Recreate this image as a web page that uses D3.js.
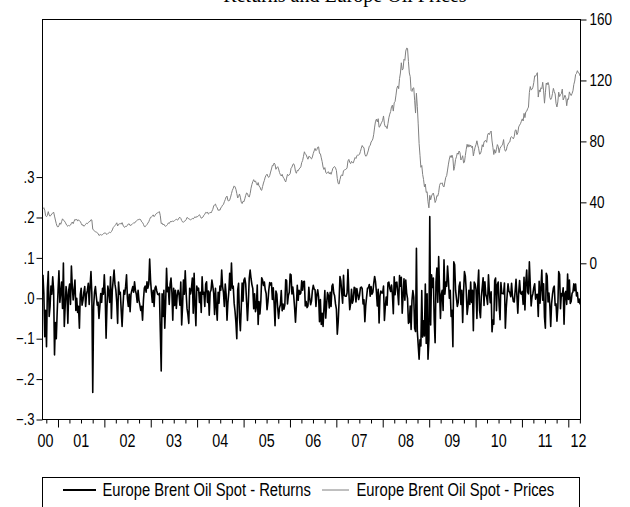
<!DOCTYPE html>
<html>
<head>
<meta charset="utf-8">
<script src="https://cdn.jsdelivr.net/npm/d3@7"></script>
<style>
  html, body { margin: 0; padding: 0; background: #fff; }
  svg { display: block; }
  .sans { font-family: "Liberation Sans", Arial, sans-serif; }
</style>
</head>
<body>
<svg id="chart" width="630" height="507"></svg>
<script>
// Weekly observations (Fridays), first week starting 1 Sep 2000.
const firstWeek = "2000-09-01";

// Brent spot price, USD per barrel, one array per calendar year
const price2000 = [35.8,36.5,34.9,31.2,30.6, 31.5,33.9,31.8,30.9, 31.6,32.4,33.0,33.6, 31.0,28.4,26.0,24.2,23.8];
const price2001 = [24.8,26.5,25.6,27.4, 29.2,28.4,27.8,27.0, 25.8,24.8,24.3,24.9,24.6, 25.1,26.2,27.1,26.0, 27.6,28.9,28.4,28.9,
                   27.7,28.5,28.0,27.5,26.2, 25.0,25.3,24.3,24.8, 25.6,26.3,26.0,26.8,27.3, 27.5,28.6,28.4,22.5,
                   21.8,21.2,20.6,20.5, 20.0,19.6,18.3,18.6,18.9, 18.5,18.8,19.5,19.7];
const price2002 = [20.1,19.3,18.9,19.6, 19.9,20.4,20.1,20.8, 21.9,23.4,24.1,24.8,25.6, 26.6,24.5,25.6,25.9, 26.1,25.7,26.7,25.1,24.0,
                   23.6,24.3,24.2,25.0, 25.8,25.9,24.8,25.1, 25.4,26.0,26.6,26.4,27.2, 27.8,28.3,28.7,28.6,
                   29.1,28.5,27.2,26.8, 25.6,24.1,24.0,24.8,25.4, 26.4,27.3,28.8,30.2];
const price2003 = [30.4,30.9,31.8,30.6,31.4, 32.3,32.9,33.2,33.5, 33.9,31.2,26.1,26.4, 25.2,25.7,24.6,24.3, 24.7,25.4,26.5,26.1,27.2,
                   27.6,27.2,27.9,27.4, 28.0,28.6,28.9,28.4, 28.6,29.8,30.2,29.5,28.1, 27.2,26.9,27.6,27.9,
                   28.6,30.1,29.7,29.2,29.0, 28.4,28.9,29.4,29.1, 29.8,30.6,29.9,30.8];
const price2004 = [30.6,31.4,31.9,30.8,29.6, 29.9,30.4,31.6,32.2, 33.4,33.1,33.7,32.3, 32.8,33.5,33.0,34.2,35.4, 37.6,38.4,38.9,37.2,
                   36.4,34.7,35.2,34.8, 36.3,37.1,38.2,38.6,40.4, 41.8,43.5,44.1,41.2, 40.9,41.6,43.4,45.7,
                   47.9,49.2,50.8,50.2,48.6, 45.8,42.9,43.8,45.5, 43.4,40.1,39.2,40.7,40.4];
const price2005 = [42.3,44.6,46.2,45.8, 43.9,43.5,45.7,49.3, 51.8,53.6,54.9,53.5, 54.1,52.4,51.3,53.0,50.6, 50.2,48.3,47.9,50.4,
                   52.7,54.4,56.6,57.8, 58.5,56.9,56.4,57.6,59.9, 61.9,64.3,64.1,65.8, 64.9,61.7,62.8,63.4,61.9,
                   59.6,58.2,57.3,58.4, 56.6,55.8,54.3,53.4, 55.9,58.4,57.6,58.0,58.9];
const price2006 = [62.4,63.1,64.9,65.3, 63.8,60.2,59.1,61.0, 60.7,61.9,62.5,63.3,66.1, 67.4,70.2,73.2,71.8, 71.2,69.6,68.3,70.2,
                   70.1,69.0,68.5,69.8,72.1, 73.8,75.4,73.9,74.6, 76.2,76.4,72.1,71.9, 69.2,66.7,63.2,61.6,62.8,
                   59.8,58.9,59.7,60.1, 58.7,59.6,58.4,60.2, 62.3,63.1,63.5,62.6,60.9];
const price2007 = [55.6,52.4,52.0,54.9, 57.3,58.1,57.4,60.8, 61.2,61.5,61.8,62.6,67.2, 68.2,66.3,65.4,66.9, 66.1,65.9,67.7,69.4,
                   68.8,70.5,71.2,71.0,71.5, 73.4,75.5,77.3,76.2, 75.9,71.6,70.3,70.6,72.4, 74.3,76.9,77.3,79.6,
                   80.4,81.6,84.7,89.4, 93.2,94.6,92.8,94.9,89.3, 89.8,91.4,92.6,93.8];
const price2008 = [96.7,91.5,89.6,89.9, 88.4,91.8,95.5,97.9,99.6, 102.9,103.8,99.9,105.3, 106.2,110.4,114.9,116.4,
                   114.6,121.2,124.9,131.6,126.8, 127.6,133.9,133.2,139.3, 141.2,141.0,132.5,124.9,
                   122.5,113.4,112.8,114.9,115.2, 107.0,98.6,111.6,102.8, 91.5,78.6,70.9,63.0,64.2,
                   58.3,55.1,50.2,52.0, 46.5,47.0,40.4,36.4];
const price2009 = [44.6,41.7,44.2,45.4,46.1, 43.7,39.9,41.2,44.4, 44.1,46.5,51.1,52.6, 52.4,52.8,50.6,50.1, 53.4,56.4,57.5,61.2,65.1,
                   68.4,70.6,69.4,71.0, 68.9,61.0,63.6,68.1,69.9, 72.4,71.6,73.7,72.5, 67.8,68.9,70.6,65.9,
                   66.3,70.8,74.8,78.1,76.2, 77.9,76.5,77.6,76.0, 76.9,70.5,73.4,76.2];
const price2010 = [77.9,80.4,77.5,75.2,71.6, 71.9,73.9,77.8,76.4, 79.6,80.4,80.6,79.4, 84.1,85.4,84.5,85.9,86.8, 80.3,76.1,71.4,74.6,
                   72.3,74.8,77.9,76.6, 72.6,75.5,76.4,77.3,78.2, 81.2,75.4,73.6,74.1, 76.8,78.2,79.3,79.6,
                   82.6,83.1,82.4,81.7,83.2, 87.2,87.6,84.4,85.6, 89.5,90.7,91.6,93.2,94.8];
const price2011 = [93.4,98.4,95.6,99.4, 99.8,101.4,102.5,112.1, 116.0,113.8,114.2,115.6, 118.7,123.0,122.8,123.9,125.1,
                   109.1,113.8,112.4,115.2, 114.6,118.8,113.2,105.1, 111.9,118.3,117.2,118.7,116.7,
                   108.9,107.5,108.6,111.4, 114.8,112.7,111.1,104.9,102.6, 105.9,112.3,109.4,110.7,
                   111.4,114.3,107.2,108.5, 110.3,108.7,103.4,107.9,107.6];
const price2012 = [112.5,111.0,110.1,111.4, 113.2,117.4,119.6,123.9, 124.6,126.4,125.1,124.8,122.9];

// Weekly log returns of the same series
const return2000 = [0.058,0.012,-0.095,-0.03,-0.12,0.025,0.066,-0.045,-0.02,0.03,0.01,0.053,0.02,-0.14,-0.06,-0.10,-0.035,0.02];
const return2001 = [0.068,-0.01,0.016,0.04,-0.025,0.087,-0.07,-0.02,0.029,0.01,-0.062,0.02,0.035,-0.015,0.08,0.03,-0.004,0.02,0.045,-0.03,
                    0.0,-0.035,-0.02,-0.074,0.01,0.025,-0.017,-0.005,0.015,0.029,-0.02,0.01,0.02,0.037,-0.015,0.03,0.066,0.01,-0.233,-0.02,
                    0.015,0.029,0.005,-0.017,-0.01,-0.05,-0.02,0.012,-0.01,0.025,0.01,0.058];
const return2002 = [0.01,-0.099,-0.02,0.03,0.015,-0.01,0.053,-0.05,0.02,0.045,0.07,0.035,0.02,-0.01,-0.062,0.04,0.01,0.015,-0.03,-0.07,
                    -0.02,0.02,0.01,0.03,0.058,0.0,-0.02,0.01,-0.033,0.01,0.02,0.029,0.015,0.041,0.02,0.01,-0.01,0.02,-0.005,-0.017,
                    -0.03,-0.02,-0.054,-0.005,0.025,0.03,0.015,0.041,0.025,0.035,0.097,0.045];
const return2003 = [0.015,-0.01,0.02,-0.02,0.025,0.03,0.018,0.01,0.009,0.012,-0.083,-0.18,0.011,-0.045,0.02,-0.074,-0.012,0.074,0.016,0.027,
                    -0.015,0.035,0.05,0.015,-0.054,0.025,-0.018,0.02,-0.025,0.007,0.02,0.01,-0.017,0.04,-0.066,-0.02,0.045,0.01,0.068,0.015,
                    -0.025,-0.04,-0.062,0.025,0.011,0.025,0.05,-0.037,0.062,-0.017,-0.068,0.03];
const return2004 = [0.02,0.025,-0.01,0.015,-0.035,0.053,0.01,0.015,-0.02,0.035,0.041,-0.01,0.018,-0.042,0.015,0.02,0.045,0.03,0.012,-0.04,
                    0.025,-0.02,-0.054,0.015,-0.012,0.03,0.02,0.07,0.029,0.014,-0.02,0.035,0.01,-0.054,-0.01,0.015,0.062,0.02,0.087,0.025,
                    0.03,-0.012,-0.032,-0.06,-0.10,0.02,0.037,-0.047,-0.08,-0.023,0.038,-0.007,0.045];
const return2005 = [0.05,0.035,-0.008,-0.055,-0.01,0.05,0.07,0.049,0.034,0.024,-0.026,0.011,-0.033,-0.021,0.033,-0.065,-0.008,-0.039,-0.008,0.051,
                    0.045,0.032,0.04,0.021,0.012,-0.028,-0.009,0.021,0.039,0.033,0.038,-0.003,0.026,-0.014,-0.068,0.018,0.01,-0.024,-0.05,-0.024,
                    -0.016,0.019,-0.031,-0.014,-0.027,-0.017,0.046,0.044,-0.014,0.007,0.015,0.06];
const return2006 = [0.058,0.011,0.028,0.006,-0.023,-0.059,-0.018,0.032,-0.005,0.02,0.01,0.013,0.043,0.02,0.041,0.042,-0.019,-0.008,-0.023,-0.019,
                    0.027,-0.001,-0.016,-0.007,0.019,0.032,0.023,0.021,-0.02,0.009,0.021,0.003,-0.058,-0.003,-0.065,-0.037,-0.07,-0.025,0.019,-0.049,
                    -0.015,0.014,0.007,-0.024,0.015,-0.02,0.03,0.035,0.013,0.006,-0.014,-0.027];
const return2007 = [-0.089,-0.059,-0.008,0.054,0.043,0.014,-0.012,0.057,0.007,0.005,0.005,0.013,0.071,0.015,-0.028,-0.014,0.022,-0.012,-0.003,0.027,
                    0.025,-0.009,0.024,0.01,-0.003,0.007,0.026,0.028,0.024,-0.014,-0.004,-0.058,-0.018,0.004,0.025,0.026,0.034,0.005,0.029,0.01,
                    0.015,0.037,0.054,0.041,0.015,-0.019,0.022,-0.061,0.006,0.018,0.013,0.013];
const return2008 = [0.03,-0.055,-0.021,0.003,-0.017,0.038,0.04,0.025,0.017,0.033,0.009,-0.038,0.053,0.009,0.039,0.04,0.013,-0.016,0.056,0.03,
                    0.052,-0.037,0.006,0.048,-0.005,0.045,0.013,-0.001,-0.062,-0.059,-0.019,-0.077,-0.005,0.019,0.003,-0.074,-0.082,0.124,-0.082,-0.116,
                    -0.151,-0.103,-0.118,0.019,-0.096,-0.056,-0.093,0.035,-0.112,0.011,-0.151,-0.104];
const return2009 = [0.202,-0.066,0.058,0.027,0.05,-0.054,-0.11,0.04,0.075,-0.01,0.103,0.02,-0.05,0.01,0.02,-0.03,0.095,0.01,0.04,0.03,
                    0.08,0.045,0.0,0.02,-0.045,-0.03,-0.12,0.09,0.083,0.02,0.0,-0.02,-0.01,0.03,0.04,-0.015,0.02,-0.06,0.015,0.066,
                    0.055,0.02,-0.04,-0.02,0.02,-0.015,0.04,-0.01,0.02,-0.08,0.04,0.035];
const return2010 = [0.022,-0.05,0.031,0.07,-0.03,-0.048,0.004,0.027,0.051,-0.018,0.041,0.01,0.002,-0.015,0.058,0.015,-0.011,0.016,-0.083,-0.054,
                    -0.064,0.044,0.05,-0.031,0.034,0.04,-0.017,-0.053,0.039,0.012,0.012,0.011,0.038,-0.074,-0.024,0.007,0.036,0.018,0.014,0.004,
                    0.037,0.006,-0.008,-0.009,0.018,0.047,0.005,-0.037,0.014,0.044,0.013,0.01,0.017];
const return2011 = [-0.015,0.052,-0.029,0.039,0.07,0.016,0.011,0.09,0.034,-0.019,0.004,0.012,0.027,0.036,-0.002,0.009,0.01,-0.045,0.042,-0.012,
                    0.025,0.07,-0.005,0.036,-0.047,-0.074,0.062,0.055,-0.009,0.013,-0.017,-0.07,-0.013,0.01,0.025,0.03,-0.018,-0.014,-0.057,-0.022,
                    0.066,0.059,-0.026,0.012,0.006,0.026,-0.064,0.012,0.017,-0.015,0.06,-0.003];
const return2012 = [0.045,-0.013,-0.008,0.012,0.016,0.036,0.019,0.035,0.006,0.014,-0.01,-0.002,-0.015];

const yearLabels = ["00","01","02","03","04","05","06","07","08","09","10","11","12"];
const returnTicks = [-0.3, -0.2, -0.1, 0.0, 0.1, 0.2, 0.3];
const priceTicks = [0, 40, 80, 120, 160];
const seriesNames = ["Europe Brent Oil Spot - Returns", "Europe Brent Oil Spot - Prices"];
const titleText = "Returns and Europe Oil Prices";

// ---- assemble the weekly series ----
const prices = [].concat(price2000, price2001, price2002, price2003, price2004, price2005, price2006,
                         price2007, price2008, price2009, price2010, price2011, price2012);
const returns = [].concat(return2000, return2001, return2002, return2003, return2004, return2005, return2006,
                          return2007, return2008, return2009, return2010, return2011, return2012);

const DAY = 864e5;
const start = new Date(firstWeek + "T00:00:00Z");
const nWeeks = prices.length;
const end = new Date(start.getTime() + nWeeks * 7 * DAY);
const weekMid = i => new Date(start.getTime() + (i * 7 + 3.5) * DAY);

// condensed lettering: squeeze Arial-metric glyphs to a narrow face
const NARROW = 0.82;
function narrow(sel) {
  sel.each(function () {
    const w = this.getComputedTextLength();
    this.setAttribute("textLength", (w * NARROW).toFixed(2));
    this.setAttribute("lengthAdjust", "spacingAndGlyphs");
  });
}

// ---- frame ----
const L = 42.5, R = 580.5, T = 19.5, B = 419.5;

const svg = d3.select("#chart");
svg.append("rect").attr("width", 630).attr("height", 507).attr("fill", "#fff");

const x = d3.scaleUtc().domain([start, end]).range([L, R]);
// left scale: returns; right scale: prices
const yRet = d3.scaleLinear().domain([-0.3, 0.69]).range([B, T]);
const yPrice = d3.scaleLinear().domain([-102.5, 160]).range([B, T]);

// title (sits above the frame, mostly off the top edge)
svg.append("text")
  .attr("x", 345).attr("y", 2)
  .attr("text-anchor", "middle")
  .attr("font-family", "'Liberation Serif', 'Times New Roman', serif")
  .attr("font-size", 20)
  .attr("fill", "#000")
  .text(titleText);

// series
svg.append("clipPath").attr("id", "plot-clip")
  .append("rect").attr("x", L).attr("y", T).attr("width", R - L).attr("height", B - T);

const plot = svg.append("g").attr("clip-path", "url(#plot-clip)");

plot.append("path")
  .datum(prices)
  .attr("fill", "none")
  .attr("stroke", "#808080")
  .attr("stroke-width", 1.0)
  .attr("stroke-linejoin", "round")
  .attr("d", d3.line().x((d, i) => x(weekMid(i))).y(d => yPrice(d)));

plot.append("path")
  .datum(returns)
  .attr("fill", "none")
  .attr("stroke", "#000")
  .attr("stroke-width", 1.6)
  .attr("stroke-linejoin", "round")
  .attr("d", d3.line().x((d, i) => x(weekMid(i))).y(d => yRet(d)));

// frame
svg.append("rect")
  .attr("x", L).attr("y", T).attr("width", R - L).attr("height", B - T)
  .attr("fill", "none").attr("stroke", "#000").attr("stroke-width", 1);

// left axis
const fmtRet = d => d3.format(".1f")(d).replace("0.", ".");
const leftAxis = svg.append("g").attr("transform", `translate(${L},0)`)
  .call(d3.axisLeft(yRet).tickValues(returnTicks).tickSize(6).tickPadding(2).tickFormat(fmtRet));
leftAxis.select(".domain").remove();
leftAxis.selectAll("line").attr("stroke", "#000");
leftAxis.selectAll("text")
  .attr("class", "sans").attr("font-family", null).attr("font-size", 16).attr("fill", "#000")
  .call(narrow);

// right axis
const rightAxis = svg.append("g").attr("transform", `translate(${R},0)`)
  .call(d3.axisRight(yPrice).tickValues(priceTicks).tickSize(6).tickPadding(3).tickFormat(d3.format("d")));
rightAxis.select(".domain").remove();
rightAxis.selectAll("line").attr("stroke", "#000");
rightAxis.selectAll("text")
  .attr("class", "sans").attr("font-family", null).attr("font-size", 16.5).attr("fill", "#000")
  .call(narrow);

// bottom axis: yearly major ticks, quarterly minor ticks
const years = d3.utcYear.range(d3.utcYear.ceil(start), end);
const quarters = d3.utcMonth.every(3).range(start, end).filter(d => d.getUTCMonth() !== 0);

const minorAxis = svg.append("g").attr("transform", `translate(0,${B})`)
  .call(d3.axisBottom(x).tickValues(quarters).tickSize(4).tickFormat(""));
minorAxis.select(".domain").remove();
minorAxis.selectAll("line").attr("stroke", "#000");

const majorAxis = svg.append("g").attr("transform", `translate(0,${B})`)
  .call(d3.axisBottom(x).tickValues(years).tickSize(8).tickFormat(""));
majorAxis.select(".domain").remove();
majorAxis.selectAll("line").attr("stroke", "#000");

// year labels centred on the visible part of each year
svg.append("g").selectAll("text")
  .data(yearLabels)
  .join("text")
  .attr("class", "sans")
  .attr("font-size", 17.5)
  .attr("text-anchor", "middle")
  .attr("x", (d, i) => {
    const y0 = new Date(Date.UTC(2000 + i, 0, 1));
    const y1 = new Date(Date.UTC(2001 + i, 0, 1));
    const mid = x(new Date((y0.getTime() + y1.getTime()) / 2));
    return Math.max(L + 3, Math.min(R - 2, mid));
  })
  .attr("y", 447)
  .text(d => d)
  .call(narrow);

// legend
const legend = svg.append("g");
legend.append("rect")
  .attr("x", 42.5).attr("y", 477.5).attr("width", 537).attr("height", 40)
  .attr("fill", "#fff").attr("stroke", "#000").attr("stroke-width", 1);

const items = [
  { name: seriesNames[0], color: "#000", width: 1.8, x0: 63, x1: 96, tx: 102.5 },
  { name: seriesNames[1], color: "#808080", width: 1.0, x0: 322, x1: 349, tx: 356.5 }
];
items.forEach(it => {
  legend.append("line")
    .attr("x1", it.x0).attr("x2", it.x1).attr("y1", 490).attr("y2", 490)
    .attr("stroke", it.color).attr("stroke-width", it.width);
  legend.append("text")
    .attr("class", "sans")
    .attr("x", it.tx).attr("y", 496)
    .attr("font-size", 18)
    .attr("fill", "#000")
    .text(it.name)
    .call(narrow);
});
</script>
</body>
</html>
